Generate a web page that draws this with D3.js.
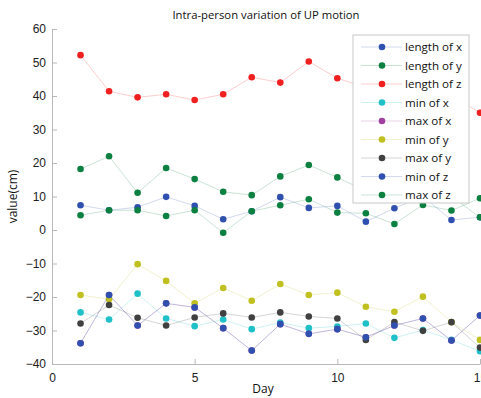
<!DOCTYPE html>
<html>
<head>
<meta charset="utf-8">
<script src="https://cdn.jsdelivr.net/npm/d3@7"></script>
<style>
  body { margin: 0; background: #fff; }
  svg { display: block; font-family: "Open Sans", "DejaVu Sans", sans-serif; }
  .axis path, .axis line { stroke: #b8b8b8; }
  .axis text { fill: #222; font-size: 12px; }
</style>
</head>
<body>
<div id="chart"></div>
<script>
const days = d3.range(1, 16);

// series values
const lengthX = [7.4, 5.9, 6.8, 9.9, 7.2, 3.2, 5.6, 9.8, 6.6, 7.2, 2.5, 6.5, 10, 3, 3.8];
const lengthY = [18.2, 22.0, 11.1, 18.5, 15.2, 11.4, 10.4, 16.0, 19.4, 15.7, 11.6, 12, 14, 10, 3.8];
const lengthZ = [52.2, 41.4, 39.6, 40.5, 38.8, 40.5, 45.6, 44.0, 50.3, 45.3, 42.5, 41, 41, 40.2, 35.0];
const minX = [-24.6, -26.7, -19.0, -26.4, -28.7, -26.7, -29.6, -27.6, -29.3, -28.8, -27.9, -32.2, -29.9, -32.8, -36.2];
const maxX = [-33.8, -19.4, -28.5, -21.9, -23.1, -29.3, -36.0, -28.1, -31.0, -29.6, -32.0, -28.5, -26.4, -33.0, -25.5];
const minY = [-19.4, -20.7, -10.2, -15.2, -21.9, -17.3, -21.1, -16.1, -19.4, -18.7, -22.9, -24.4, -19.9, -27.5, -32.8];
const maxY = [-27.9, -22.4, -26.2, -28.5, -26.1, -24.9, -26.1, -24.6, -25.8, -26.4, -32.8, -27.5, -30.1, -27.5, -35.1];
const minZ = [-33.8, -19.4, -28.5, -21.9, -23.1, -29.3, -36.0, -28.1, -31.0, -29.6, -32.0, -28.5, -26.4, -33.0, -25.5];
const maxZ = [4.4, 5.9, 5.9, 4.2, 5.9, -0.8, 5.6, 7.4, 9.2, 5.2, 5.0, 1.8, 7.5, 5.8, 9.5];

const names = ['length of x', 'length of y', 'length of z', 'min of x', 'max of x',
               'min of y', 'max of y', 'min of z', 'max of z'];
const colors = ['#3050b0', '#0c8040', '#f02020', '#20c0c8', '#a040a0',
                '#c0c020', '#404040', '#3050b0', '#0c8040'];
const values = [lengthX, lengthY, lengthZ, minX, maxX, minY, maxY, minZ, maxZ];

const xTicks = [0, 5, 10, 15];
const yTicks = d3.range(-40, 61, 10);

const width = 481, height = 398;
const margin = { top: 29, right: 1, bottom: 34, left: 52 };

const svg = d3.select('#chart').append('svg')
    .attr('width', width)
    .attr('height', height);

const x = d3.scaleLinear().domain([0, 15]).range([margin.left, width - margin.right]);
const y = d3.scaleLinear().domain([-40, 60]).range([height - margin.bottom, margin.top]);

// axes, ticks point inwards
svg.append('g')
    .attr('class', 'axis')
    .attr('transform', `translate(0,${y(-40)})`)
    .call(d3.axisBottom(x).tickValues(xTicks).tickSize(-5).tickPadding(9).tickSizeOuter(0))
    .call(g => g.selectAll('text').attr('dy', '0.71em'));

svg.append('g')
    .attr('class', 'axis')
    .attr('transform', `translate(${x(0)},0)`)
    .call(d3.axisLeft(y).tickValues(yTicks).tickSize(-5).tickPadding(6).tickSizeOuter(0));

// title and axis labels
svg.append('text')
    .attr('x', (x(0) + x(15)) / 2)
    .attr('y', 19)
    .attr('text-anchor', 'middle')
    .attr('font-size', 11.3)
    .attr('fill', '#111')
    .text('Intra-person variation of UP motion');

svg.append('text')
    .attr('x', 263)
    .attr('y', 393)
    .attr('text-anchor', 'middle')
    .attr('font-size', 12)
    .attr('fill', '#111')
    .text('Day');

svg.append('text')
    .attr('transform', `translate(17,${y(10)}) rotate(-90)`)
    .attr('text-anchor', 'middle')
    .attr('font-size', 12)
    .attr('fill', '#111')
    .text('value(cm)');

// series
const line = d3.line().x((d, i) => x(days[i])).y(d => y(d));

const series = svg.append('g');
values.forEach((vals, k) => {
    const g = series.append('g');
    g.append('path')
        .attr('d', line(vals))
        .attr('fill', 'none')
        .attr('stroke', colors[k])
        .attr('stroke-opacity', 0.22)
        .attr('stroke-width', 1);
    g.selectAll('circle')
        .data(vals)
        .join('circle')
        .attr('cx', (d, i) => x(days[i]))
        .attr('cy', d => y(d))
        .attr('r', 3.3)
        .attr('fill', colors[k]);
});

// legend
const lg = svg.append('g').attr('transform', 'translate(353,35)');
lg.append('rect')
    .attr('width', 116)
    .attr('height', 168)
    .attr('fill', '#fff')
    .attr('stroke', '#c8c8c8');

names.forEach((name, k) => {
    const row = lg.append('g').attr('transform', `translate(0,${12 + k * 18.5})`);
    row.append('line')
        .attr('x1', 8).attr('x2', 49)
        .attr('stroke', colors[k])
        .attr('stroke-opacity', 0.22);
    row.append('circle')
        .attr('cx', 29).attr('r', 3.3)
        .attr('fill', colors[k]);
    row.append('text')
        .attr('x', 52)
        .attr('dy', '0.35em')
        .attr('font-size', 11.6)
        .attr('fill', '#111')
        .text(name);
});
</script>
</body>
</html>
